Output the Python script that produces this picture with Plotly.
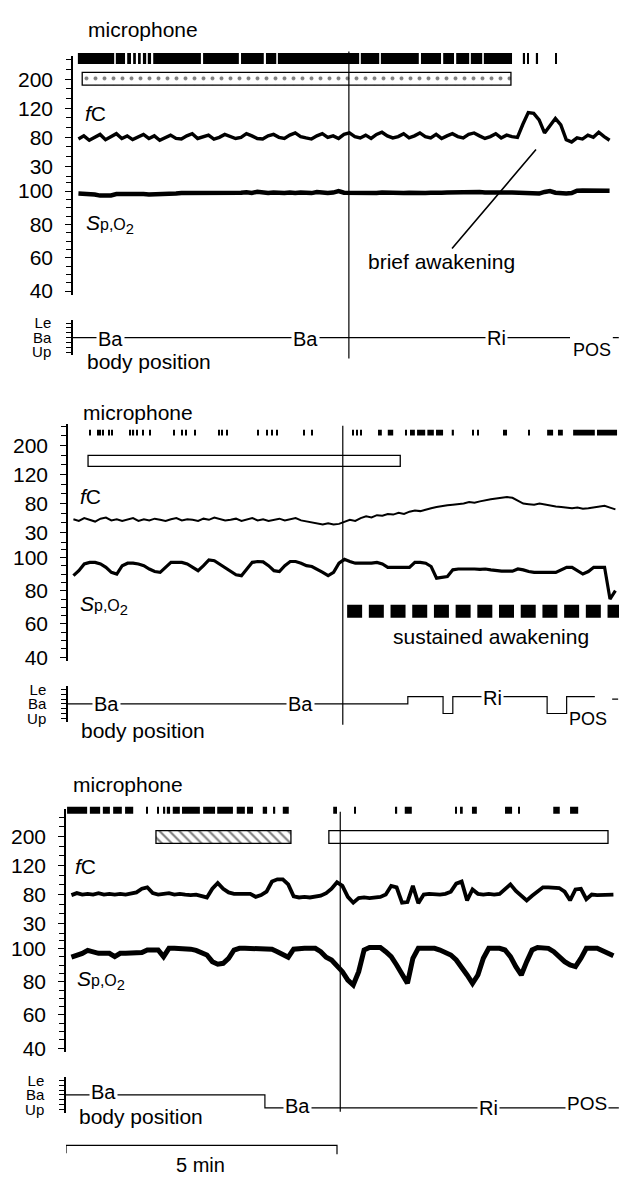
import numpy as np
import plotly.graph_objects as go

W, H = 619, 1184
PX_PER_MIN = 54.2
FONT = "Liberation Sans, Arial, Helvetica, sans-serif"

# ---------------- axis labels ----------------
FC_BPM = [30, 80, 120, 200]
FC_LABELS = ["30", "80", "120", "200"]
SPO2_TICKS = [40, 60, 80, 100]
SPO2_MINOR = [45, 50, 55, 65, 70, 75, 85, 90, 95, 105]
BODY_LEVELS = [0, 3, 6]
BODY_LABELS = ["Up", "Ba", "Le"]

# ---------------- data (time in min, sampled every 0.1 min from 0.1) ----------------
FC1 = [77, 82, 75, 80, 84, 76, 81, 85, 78, 82,
       76, 81, 84, 78, 82, 75, 80, 83, 78, 77,
       82, 85, 78, 81, 83, 77, 80, 84, 81, 78,
       80, 85, 82, 78, 77, 82, 84, 80, 78, 83,
       86, 81, 79, 77, 82, 85, 80, 82, 78, 84,
       86, 81, 79, 83, 78, 84, 87, 82, 79, 81,
       85, 79, 82, 86, 81, 79, 84, 78, 82, 85,
       81, 79, 84, 86, 82, 78, 81, 85, 79, 83,
       81, 80, 98, 114, 113, 104, 86, 97, 106, 97,
       76, 72, 79, 77, 83, 80, 87, 81, 75]
SPO2_1 = [98.5, 98.5, 98.3, 98.0, 97.3, 97.2, 97.4, 98.2, 98.3, 98.2,
          98.0, 98.0, 98.2, 98.0, 98.0, 98.4, 98.6, 98.4, 98.6, 98.8,
          98.8, 98.6, 99.0, 98.8, 99.0, 98.7, 99.1, 98.9, 99.2, 98.9,
          99.0, 99.3, 98.9, 99.6, 99.0, 98.8, 99.1, 98.8, 98.9, 99.2,
          98.8, 99.1, 98.9, 98.8, 99.4, 99.0, 98.8, 99.1, 100.0, 99.0,
          98.9, 98.8, 99.0, 98.7, 99.0, 98.8, 99.1, 98.9, 98.8, 99.0,
          98.9, 99.0, 98.8, 99.1, 98.9, 99.0, 98.8, 99.0, 99.1, 99.2,
          99.0, 99.3, 99.0, 99.2, 99.4, 99.1, 99.2, 99.5, 99.0, 99.2,
          99.1, 98.9, 99.0, 98.4, 98.2, 98.5, 99.5, 100.0, 99.0, 98.6,
          98.5, 98.8, 100.2, 100.3, 100.3, 100.2, 100.3, 100.3, 100.2]
FC2 = [53, 50, 55, 52, 49, 54, 56, 51, 53, 50,
       52, 55, 50, 53, 51, 54, 52, 50, 53, 55,
       51, 53, 52, 50, 54, 52, 56, 53, 51, 52,
       54, 50, 52, 55, 51, 53, 50, 52, 54, 51,
       53, 55, 51, 49, 47, 45, 44, 46, 44, 45,
       48, 52, 50, 55, 58, 56, 60, 59, 62, 61,
       64, 62, 66, 68, 67, 70, 72, 74, 76, 77,
       78, 79, 80, 82, 81, 83, 85, 86, 87, 88,
       89, 88, 84, 80, 79, 78, 80, 78, 77, 75,
       74, 73, 72, 73, 71, 72, 73, 75, 76, 73, 70]
SPO2_2 = [89, 92, 96, 97, 97, 96, 94, 91, 90, 95,
          96.5, 96.5, 96, 95, 93, 91.5, 91, 94, 97, 97,
          97, 96, 94, 92, 95, 98.5, 98, 96, 94, 92,
          89.5, 89, 93, 97, 97.5, 97.3, 95, 92, 91.5, 95,
          97.5, 97.5, 96.5, 95, 94.5, 93, 91, 89, 91, 96.5,
          98.8, 97.5, 96.5, 96.5, 96.5, 96.5, 97, 96, 94, 94,
          94, 94, 94, 97, 97, 96.5, 94.5, 87.5, 88, 88.5,
          92.5, 93, 93, 93.2, 93, 92.8, 93, 92.5, 92, 91.7,
          91.7, 91.7, 93, 92.5, 91.5, 91, 91, 91.2, 91, 91,
          92.5, 94, 94, 92, 90, 91.5, 94, 94, 94, 75, 80]
FC3 = [79, 82, 80, 81, 80, 82, 80, 81, 80, 81,
       80, 81, 83, 88, 90, 82, 80, 81, 82, 80,
       81, 80, 79, 80, 78, 75, 88, 96, 88, 83,
       81, 81, 80, 81, 76, 79, 84, 98, 101, 101,
       94, 77, 75, 76, 75, 76, 78, 82, 88, 97,
       92, 76, 66, 74, 75, 74, 75, 76, 80, 92,
       90, 66, 67, 92, 65, 80, 81, 80, 80, 81,
       84, 95, 98, 70, 87, 81, 80, 81, 80, 81,
       88, 94, 85, 78, 70, 78, 85, 90, 90, 90,
       89, 84, 70, 87, 88, 72, 80, 79, 79, 80, 80]
SPO2_3 = [94.7, 95.5, 97, 98.8, 98, 97, 97, 97, 95, 97,
          97, 97, 97, 97.5, 99, 99, 99, 95, 100, 100,
          100, 100, 99.5, 98.8, 97.5, 96, 92, 90.5, 91, 94,
          99, 100, 100, 100, 100, 100, 100, 99.5, 98, 96,
          94.7, 99.5, 100, 100, 100, 100, 98, 94.7, 93, 90,
          86, 81, 78, 86, 99, 100.5, 100.5, 100.5, 98, 95,
          90, 84, 79, 94, 100, 100, 100, 100, 99, 97.5,
          96, 93, 89, 84, 79, 84, 94, 100, 100, 100,
          99, 95, 89, 84, 92, 99, 100.5, 100.5, 100, 98,
          94.5, 92, 90, 89, 94, 100, 100, 100, 98.5, 97, 95.5]

# microphone activity (start / end, min)
MIC1_START = [0.09, 0.79, 1.00, 1.11, 1.20, 1.29, 1.38, 1.48, 2.40, 3.10, 3.56, 3.78, 5.31, 5.68,
              6.42, 6.83, 7.07, 7.34, 7.58, 8.30, 8.38, 8.54, 8.91]
MIC1_END = [0.76, 0.96, 1.07, 1.16, 1.25, 1.35, 1.44, 2.36, 3.06, 3.52, 3.75, 5.28, 5.65, 6.38,
            6.79, 7.03, 7.31, 7.55, 8.10, 8.34, 8.40, 8.58, 8.93]
MIC2_START = [0.39, 0.54, 0.59, 0.63, 0.74, 0.81, 1.14, 1.18, 1.27, 1.37, 1.51, 1.94, 2.10, 2.16,
              2.34, 2.77, 2.84, 2.92, 3.49, 3.67, 3.75, 3.84, 4.34, 4.50, 5.24, 5.33, 5.39, 5.72,
              5.90, 6.22, 6.31, 6.44, 6.63, 6.79, 7.08, 7.47, 7.55, 8.03, 8.08, 8.49, 8.84, 9.04,
              9.32, 9.76]
MIC2_END = [0.41, 0.57, 0.61, 0.65, 0.76, 0.83, 1.16, 1.22, 1.29, 1.40, 1.53, 1.96, 2.12, 2.18,
            2.36, 2.79, 2.86, 2.94, 3.51, 3.69, 3.78, 3.86, 4.37, 4.52, 5.26, 5.35, 5.42, 5.79,
            6.00, 6.25, 6.40, 6.59, 6.75, 6.92, 7.12, 7.49, 7.57, 8.05, 8.10, 8.52, 8.95, 9.13,
            9.72, 10.13]
MIC3_START = [0.02, 0.44, 0.68, 0.87, 1.09, 1.49, 1.68, 1.79, 1.86, 1.97, 2.14, 2.53, 2.79, 3.15,
              3.34, 3.63, 3.82, 4.00, 4.93, 5.33, 6.07, 6.25, 7.18, 7.27, 7.49, 8.10, 8.34, 8.99,
              9.30]
MIC3_END = [0.39, 0.63, 0.81, 1.03, 1.24, 1.51, 1.70, 1.83, 1.92, 2.10, 2.47, 2.75, 3.08, 3.30,
            3.45, 3.71, 3.86, 4.11, 5.00, 5.35, 6.11, 6.38, 7.21, 7.32, 7.58, 8.23, 8.36, 9.11,
            9.45]

# stimulus boxes (start, end in min)
BOX1 = (0.17, 8.08)
BOX2 = (0.37, 6.13)
BOX3_HATCH = (1.66, 4.15)
BOX3_PLAIN = (4.85, 10.0)
SUSTAINED = (5.15, 10.2)
EVENT_T = [5.09, 5.07, 5.06]

# body position (change times, levels)
BODY1_T = [0, 9.17, None, 9.96, 10.07]
BODY1_V = [3, 3, None, 3, 3]
BODY2_T = [0, 6.27, 6.92, 7.10, 8.84, 9.20, 9.72, None, 10.04, 10.15]
BODY2_V = [3, 4.5, 1, 4.5, 1, 4.5, 4.5, None, 4, 4]
BODY3_T = [0, 3.67, 10.2]
BODY3_V = [3, 0.3, 0.3]

# ---------------- layout geometry (pixels) ----------------
PANELS = [
    dict(ax=73, T=75, top=52, mic_y=-21, mic_h=11, vline=(47, 357)),
    dict(ax=68, T=445, top=423, mic_y=-13, mic_h=6, vline=(425, 727)),
    dict(ax=66, T=840, top=812, mic_y=-26.5, mic_h=7, vline=(815, 1118)),
]
FC_STEP = 88 / 3.0
SP_SCALE = 101 / 60.0


def py(p):
    return 1 - p / H


def times(vals):
    return [round(0.1 * (i + 1), 2) for i in range(len(vals))]


def fc_pos(v):
    return np.interp(np.asarray(v, float), FC_BPM, [0, 1, 2, 3])


def ref(kind, n):
    if kind == "x":
        return "x" if n == 1 else f"x{n}"
    return "y" if n == 1 else f"y{n}"


def lname(kind, n):
    return f"{kind}axis" if n == 1 else f"{kind}axis{n}"


fig = go.Figure()
layout = {}
annotations = []
shapes = []

FCS = [FC1, FC2, FC3]
SPS = [SPO2_1, SPO2_2, SPO2_3]
MICS = [(MIC1_START, MIC1_END), (MIC2_START, MIC2_END), (MIC3_START, MIC3_END)]
BODIES = [(BODY1_T, BODY1_V, "linear"), (BODY2_T, BODY2_V, "hv"), (BODY3_T, BODY3_V, "hv")]
FC_W = [3.4, 2.0, 3.8]
SP_W = [4.5, 3.2, 5]

axis_common = dict(showgrid=False, zeroline=False, showline=True, linecolor="black", linewidth=1.5,
                   ticks="outside", ticklen=6, tickwidth=1.3, tickcolor="black",
                   tickfont=dict(family=FONT, size=21, color="black"))

for i, P in enumerate(PANELS):
    n = i + 1
    ax, T, top = P["ax"], P["T"], P["top"]
    xr = ref("x", n)
    nfc, nsp, nbd, nev = 4 * i + 1, 4 * i + 2, 4 * i + 3, 4 * i + 4
    layout[lname("x", n)] = dict(domain=[ax / W, 1], range=[0, (W - ax) / PX_PER_MIN],
                                 visible=False, anchor=ref("y", nfc))
    fc_top = 3 + (T - top) / FC_STEP
    fc_bot = -(100 - 88) / FC_STEP
    layout[lname("y", nfc)] = dict(
        axis_common, domain=[py(T + 100), py(top)], range=[fc_bot, fc_top], anchor=xr,
        tickmode="array", tickvals=[0, 1, 2, 3], ticktext=FC_LABELS, ticklabelstandoff=8,
        minor=dict(tickmode="array", tickvals=[-1 / 3, 1 / 3, 2 / 3, 4 / 3, 5 / 3, 7 / 3, 8 / 3, 10 / 3, 11 / 3],
                   ticks="outside", ticklen=5, tickwidth=1.2, tickcolor="black", showgrid=False))
    layout[lname("y", nsp)] = dict(
        axis_common, domain=[py(T + 218), py(T + 100)],
        range=[40 - 4 / SP_SCALE, 100 + 13 / SP_SCALE], anchor=xr,
        tickmode="array", tickvals=SPO2_TICKS, ticktext=[str(v) for v in SPO2_TICKS], ticklabelstandoff=8,
        minor=dict(tickmode="array", tickvals=SPO2_MINOR, ticks="outside", ticklen=5, tickwidth=1.2,
                   tickcolor="black", showgrid=False))
    layout[lname("y", nbd)] = dict(
        axis_common, domain=[py(T + 279), py(T + 243)], range=[-0.7, 6.7], anchor=xr,
        tickmode="array", tickvals=BODY_LEVELS, ticktext=BODY_LABELS, ticklabelstandoff=12, ticklen=5,
        tickfont=dict(family=FONT, size=15, color="black"),
        minor=dict(tickmode="array", tickvals=[1, 2, 4, 5], ticks="outside", ticklen=5, tickwidth=1.2,
                   tickcolor="black", showgrid=False))
    layout[lname("y", nev)] = dict(domain=[py(T + 290), py(T - 60)], range=[290, -60], visible=False,
                                   anchor=xr)

    fc = FCS[i]
    fig.add_trace(go.Scatter(x=times(fc), y=fc_pos(fc), mode="lines", xaxis=xr, yaxis=ref("y", nfc),
                             line=dict(color="black", width=FC_W[i]), hoverinfo="skip"))
    sp = SPS[i]
    fig.add_trace(go.Scatter(x=times(sp), y=sp, mode="lines", xaxis=xr, yaxis=ref("y", nsp),
                             line=dict(color="black", width=SP_W[i]), hoverinfo="skip"))
    bt, bv, bshape = BODIES[i]
    fig.add_trace(go.Scatter(x=bt, y=bv, mode="lines", xaxis=xr, yaxis=ref("y", nbd),
                             line=dict(color="black", width=1.2, shape=bshape), hoverinfo="skip"))
    ms, me = MICS[i]
    fig.add_trace(go.Bar(orientation="h", y=[P["mic_y"]] * len(ms), base=ms,
                         x=[e - s for s, e in zip(ms, me)], width=P["mic_h"],
                         marker=dict(color="black", line=dict(width=0)),
                         xaxis=xr, yaxis=ref("y", nev), hoverinfo="skip"))

    shapes.append(dict(type="line", xref=xr, yref="paper", x0=EVENT_T[i], x1=EVENT_T[i],
                       y0=py(P["vline"][0]), y1=py(P["vline"][1]), line=dict(color="black", width=1.2)))


def add_box(span, yc, h, n_ev, xr, pattern=None):
    marker = dict(color="white", line=dict(color="black", width=1.3))
    if pattern:
        marker["pattern"] = pattern
    fig.add_trace(go.Bar(orientation="h", y=[yc], base=[span[0]], x=[span[1] - span[0]], width=h,
                         marker=marker, xaxis=xr, yaxis=ref("y", n_ev), hoverinfo="skip"))


add_box(BOX1, -0.5, 13, 4, "x", dict(shape=".", fgcolor="black", bgcolor="white", size=9, solidity=0.15))
add_box(BOX2, 15.5, 11, 8, "x2")
add_box(BOX3_HATCH, 0.5, 13, 12, "x3", dict(shape="\\", fgcolor="black", bgcolor="white", size=7, solidity=0.3))
add_box(BOX3_PLAIN, 0.5, 13, 12, "x3")

fig.add_trace(go.Scatter(x=[SUSTAINED[0], SUSTAINED[1]], y=[167.5, 167.5], mode="lines", xaxis="x2", yaxis="y8",
                         line=dict(color="black", width=13, dash="15px,6.7px"), hoverinfo="skip"))

shapes.append(dict(type="path", xref="x3", yref="paper",
                   path=f"M 0,{py(1160)} L 0,{py(1152)} L 5,{py(1152)} L 5,{py(1161)}",
                   line=dict(color="black", width=1.2)))


def ann(text, x, y, size=21, xanchor="center", bg=None, pad=1):
    d = dict(text=text, x=x / W, y=py(y), xref="paper", yref="paper", showarrow=False,
             font=dict(family=FONT, size=size, color="black"), xanchor=xanchor, yanchor="middle",
             borderpad=pad)
    if bg:
        d["bgcolor"] = bg
    return d


SPO2_TXT = "<i>S</i><span style='font-size:16px'>p,O</span><sub>2</sub>"
FC_TXT = "<i>f</i>C"

annotations += [
    ann("microphone", 86, 25, xanchor="left"),
    ann(FC_TXT, 83, 110, xanchor="left"),
    ann(SPO2_TXT, 84, 221, xanchor="left"),
    ann("body position", 85, 360, xanchor="left"),
    ann("Ba", 110, 337, size=20, bg="white"),
    ann("Ba", 305, 337, size=20, bg="white"),
    ann("Ri", 496, 336, size=20, bg="white"),
    ann("POS", 592, 349, size=18),
]
annotations.append(dict(text="brief awakening", x=(536 - 73) / PX_PER_MIN, y=py(146), xref="x", yref="paper",
                        showarrow=True, arrowhead=0, arrowwidth=1.6, arrowcolor="black", ax=-95, ay=112,
                        font=dict(family=FONT, size=21, color="black")))
annotations += [
    ann("microphone", 81, 412, xanchor="left"),
    ann(FC_TXT, 78, 497, xanchor="left"),
    ann(SPO2_TXT, 78, 606, xanchor="left"),
    ann("body position", 79, 733, xanchor="left"),
    ann("Ba", 106, 706, size=20, bg="white"),
    ann("Ba", 300, 706, size=20, bg="white"),
    ann("Ri", 492, 700, size=20, bg="white"),
    ann("POS", 588, 721, size=18),
    ann("sustained awakening", 491, 638),
]
annotations += [
    ann("microphone", 71, 787, xanchor="left"),
    ann(FC_TXT, 73, 870, xanchor="left"),
    ann(SPO2_TXT, 75, 985, xanchor="left"),
    ann("body position", 77, 1123, xanchor="left"),
    ann("Ba", 103, 1098, size=20, bg="white"),
    ann("Ba", 297, 1112, size=20, bg="white"),
    ann("Ri", 488, 1114, size=20, bg="white"),
    ann("POS", 587, 1110, size=19, bg="white"),
    ann("5 min", 200, 1172, size=20),
]

fig.update_layout(
    width=W, height=H, margin=dict(l=0, r=0, t=0, b=0),
    paper_bgcolor="white", plot_bgcolor="rgba(0,0,0,0)",
    showlegend=False, barmode="overlay",
    annotations=annotations, shapes=shapes,
    **layout,
)

fig.write_html("out.html", config={"displayModeBar": False},
               post_script="document.body.style.margin='0px';")
